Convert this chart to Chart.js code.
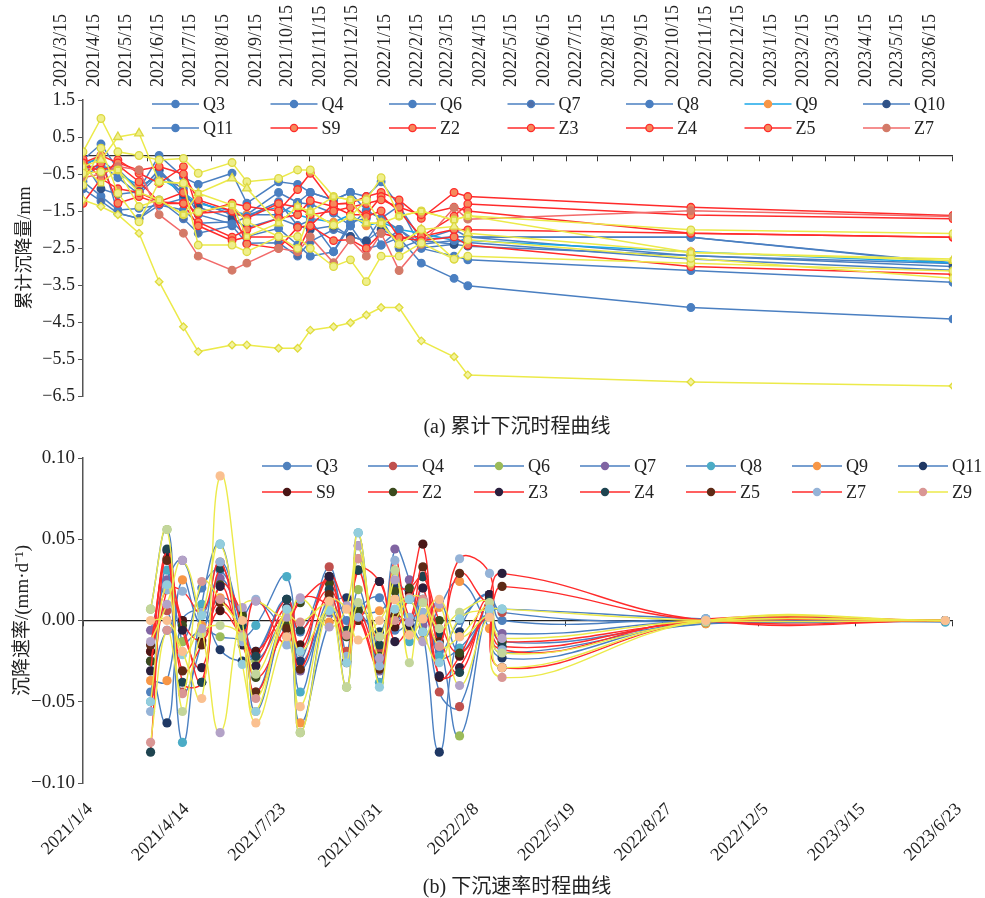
<!DOCTYPE html>
<html>
<head>
<meta charset="utf-8">
<script src="https://cdn.jsdelivr.net/npm/chart.js@4.4.1/dist/chart.umd.min.js"></script>
<style>
  body { margin: 0; background: #fff; width: 985px; height: 898px; position: relative; overflow: hidden; }
  canvas { position: absolute; left: 0; }
  #chartSettle { top: 0; }
  #chartRate { top: 440px; }
  .cap { position: absolute; left: 0; width: 1034px; text-align: center; color: #222;
         font-size: 20px; font-family: 'Liberation Serif', 'Times New Roman', Tinos, serif, 'Noto Sans CJK SC'; }
</style>
</head>
<body>
<canvas id="chartSettle" width="985" height="440"></canvas>
<canvas id="chartRate" width="985" height="458"></canvas>
<div class="cap" style="top:410px">(a) 累计下沉时程曲线</div>
<div class="cap" style="top:870px">(b) 下沉速率时程曲线</div>
<script>
// survey dates (shared by both charts)
const surveyDates = ['2021/3/15', '2021/4/1', '2021/4/17', '2021/5/7', '2021/5/26', '2021/6/18', '2021/7/2',
  '2021/8/3', '2021/8/17', '2021/9/16', '2021/10/4', '2021/10/16', '2021/11/7', '2021/11/23', '2021/12/8',
  '2021/12/22', '2022/1/8', '2022/1/29', '2022/3/1', '2022/3/14', '2022/10/11', '2023/6/16'];

const settleTicks = ['2021/3/15', '2021/4/15', '2021/5/15', '2021/6/15', '2021/7/15', '2021/8/15', '2021/9/15',
  '2021/10/15', '2021/11/15', '2021/12/15', '2022/1/15', '2022/2/15', '2022/3/15', '2022/4/15', '2022/5/15',
  '2022/6/15', '2022/7/15', '2022/8/15', '2022/9/15', '2022/10/15', '2022/11/15', '2022/12/15', '2023/1/15',
  '2023/2/15', '2023/3/15', '2023/4/15', '2023/5/15', '2023/6/15'];
const rateTicks = ['2021/1/4', '2021/4/14', '2021/7/23', '2021/10/31', '2022/2/8', '2022/5/19', '2022/8/27',
  '2022/12/5', '2023/3/15', '2023/6/23'];

// cumulative settlement, mm
const settleQ3  = [-0.12, 0.31, -0.37, -0.93, 0.00, -0.59, -0.78, -0.48, -1.29, -0.71, -0.78, -1.00, -1.20, -1.00, -1.11, -0.71, -1.36, -2.28, -2.00, -2.20, -2.21, -2.92];
const settleQ4  = [-0.30, 0.00, -1.56, -1.70, -1.34, -1.16, -1.25, -1.60, -1.60, -1.00, -1.27, -1.32, -1.56, -1.90, -1.49, -1.70, -2.00, -2.51, -2.72, -2.82, -3.11, -3.43];
const settleQ6  = [-0.70, -1.10, -1.47, -1.43, -1.34, -1.47, -1.83, -1.79, -2.19, -1.97, -2.42, -2.72, -2.60, -1.90, -2.51, -2.42, -2.22, -2.91, -3.32, -3.52, -4.11, -4.42];
const settleQ7  = [-0.90, -1.23, -1.56, -1.70, -1.20, -1.71, -2.10, -1.90, -2.37, -2.36, -2.72, -2.33, -2.00, -2.19, -2.31, -1.70, -2.51, -2.28, -2.19, -2.20, -2.71, -2.92];
const settleQ8  = [-0.30, -0.30, -0.37, -0.98, -0.39, -1.16, -1.25, -1.60, -1.60, -1.60, -1.27, -1.00, -1.20, -1.00, -1.49, -1.70, -1.36, -2.50, -2.40, -2.20, -2.21, -2.90];
const settleQ9  = [-0.20, -0.10, -0.50, -0.80, -0.60, -1.00, -1.30, -1.50, -1.60, -1.40, -1.60, -1.70, -1.80, -1.60, -1.90, -1.80, -2.00, -2.10, -2.30, -2.30, -2.60, -2.90];
const settleQ10 = [-0.15, -0.90, -1.05, -0.98, -0.39, -1.05, -1.40, -1.70, -1.95, -1.70, -1.90, -2.00, -1.90, -2.19, -2.31, -2.00, -2.22, -2.30, -2.40, -2.45, -2.70, -3.00];
const settleQ11 = [-0.60, -0.25, -0.60, -1.05, -0.50, -0.90, -1.60, -1.85, -1.65, -1.25, -1.90, -1.75, -2.60, -1.80, -1.70, -2.42, -2.00, -2.40, -2.30, -2.35, -2.80, -3.10];
const settleS9  = [-0.10, -0.62, -0.12, -0.48, -0.75, -0.30, -1.56, -1.29, -1.38, -1.50, -0.92, -0.48, -1.31, -1.29, -1.11, -1.00, -1.20, -1.70, -1.00, -1.11, -1.40, -1.62];
const settleZ2  = [-0.30, -0.40, -0.26, -0.71, -1.25, -1.00, -1.80, -2.21, -2.00, -1.70, -1.60, -1.22, -1.38, -1.60, -1.60, -1.11, -1.50, -2.19, -1.64, -1.31, -1.61, -1.71];
const settleZ3  = [-0.50, -0.20, -1.29, -1.11, -1.30, -1.29, -1.56, -1.50, -2.39, -2.51, -1.94, -1.90, -1.31, -1.29, -1.65, -1.50, -2.22, -2.19, -2.00, -2.01, -2.10, -2.21];
const settleZ4  = [-1.29, -0.62, -0.90, -1.00, -1.25, -1.30, -1.90, -2.30, -2.20, -2.20, -2.60, -1.90, -2.30, -2.28, -2.51, -2.10, -2.22, -2.30, -2.20, -2.42, -3.00, -3.21];
const settleZ5  = [-0.20, 0.00, -0.20, -0.40, -0.30, -0.50, -1.20, -1.50, -1.70, -1.30, -1.40, -1.60, -1.50, -1.40, -1.30, -1.20, -1.40, -1.60, -1.40, -1.50, -2.10, -2.21];
const settleZ7  = [-0.60, -0.50, -0.30, -0.39, -1.60, -2.10, -2.72, -3.10, -2.91, -2.51, -2.60, -2.20, -2.90, -2.28, -2.72, -2.10, -3.11, -2.40, -1.41, -1.72, -1.49, -1.65];
const settleZ9  = [-1.20, -1.38, -1.60, -2.10, -3.41, -4.63, -5.30, -5.12, -5.12, -5.21, -5.21, -4.72, -4.63, -4.52, -4.31, -4.11, -4.11, -5.01, -5.44, -5.93, -6.12, -6.23];
const settleZ10 = [0.10, 1.00, 0.10, 0.00, -0.12, -0.08, -0.48, -0.19, -0.71, -0.62, -0.39, -0.39, -1.11, -1.20, -1.20, -0.60, -1.64, -1.50, -1.74, -1.63, -2.01, -2.11];
const settleZ11 = [-0.30, -0.12, 0.50, 0.60, -0.71, -0.75, -1.02, -0.62, -0.89, -1.83, -1.38, -1.52, -1.88, -1.65, -1.83, -1.83, -2.40, -2.00, -1.92, -2.10, -2.62, -2.80];
const settleZ12 = [-0.48, -0.44, -0.39, -1.38, -1.20, -1.60, -1.52, -1.34, -1.79, -2.19, -2.19, -2.51, -3.00, -2.82, -3.41, -2.72, -2.72, -2.37, -2.80, -2.72, -2.91, -3.12];
const settleZ13 = [-0.80, 0.20, -1.02, -1.79, -0.71, -0.75, -2.42, -2.42, -2.60, -2.19, -2.51, -1.52, -1.88, -1.65, -1.20, -1.83, -2.40, -2.00, -2.80, -2.28, -2.78, -3.32];
const settleZ14 = [-0.30, -0.75, -0.39, -1.00, -1.20, -1.60, -1.02, -1.34, -2.19, -1.83, -1.38, -1.52, -1.11, -1.20, -1.83, -1.83, -1.64, -1.50, -1.74, -1.63, -2.62, -2.84];

// settlement rate, mm/d
const rateQ3  = [-0.044, -0.006, -0.013, 0.020, 0.031, 0.000, -0.019, 0.013, -0.007, 0.027, 0.000, 0.008, 0.014, -0.006, 0.000, 0.013, -0.019, 0.000, 0.016, 0.000, 0.001, 0.000];
const rateQ4  = [-0.019, 0.006, -0.044, -0.013, 0.036, -0.006, -0.044, 0.003, -0.025, 0.033, -0.019, 0.038, -0.019, 0.003, -0.006, 0.020, -0.044, -0.053, 0.016, 0.005, -0.001, 0.000];
const rateQ6  = [0.007, 0.056, -0.013, -0.006, -0.010, -0.013, -0.025, 0.000, -0.069, 0.010, -0.041, 0.019, -0.025, 0.031, -0.006, 0.004, -0.013, -0.071, 0.010, -0.013, -0.002, 0.000];
const rateQ7  = [-0.006, 0.025, 0.037, 0.005, 0.026, 0.004, 0.012, -0.010, -0.031, 0.005, -0.006, 0.046, -0.031, 0.044, 0.025, -0.003, 0.012, -0.019, 0.005, -0.008, 0.000, 0.000];
const rateQ8  = [-0.050, 0.031, -0.075, 0.010, 0.047, -0.009, -0.003, 0.027, -0.044, 0.014, -0.010, 0.054, -0.038, 0.019, -0.013, 0.013, -0.022, -0.017, 0.005, 0.007, 0.001, -0.001];
const rateQ9  = [-0.037, -0.037, 0.025, -0.003, 0.014, 0.000, -0.056, 0.000, -0.063, -0.001, 0.009, 0.005, 0.006, 0.013, 0.000, -0.012, 0.008, 0.024, -0.005, -0.020, -0.002, 0.000];
const rateQ11 = [-0.025, -0.063, 0.000, 0.005, -0.018, -0.025, -0.021, 0.013, -0.025, 0.008, 0.014, 0.006, -0.007, 0.022, 0.014, -0.007, -0.081, -0.007, 0.016, -0.023, 0.000, 0.000];
const rateS9  = [-0.019, 0.038, 0.000, -0.012, 0.006, -0.010, -0.019, 0.003, -0.015, 0.027, -0.025, 0.031, 0.024, -0.004, 0.017, 0.047, -0.035, -0.022, 0.014, -0.029, 0.000, 0.000];
const rateZ2  = [-0.025, 0.019, -0.003, -0.038, 0.022, 0.003, -0.035, -0.003, 0.011, 0.023, -0.010, 0.006, -0.022, 0.018, 0.020, 0.027, 0.000, -0.020, 0.003, -0.013, -0.001, 0.000];
const rateZ3  = [-0.031, 0.043, -0.006, -0.029, 0.021, -0.015, -0.028, 0.008, -0.019, 0.027, 0.008, 0.000, 0.024, -0.013, -0.003, 0.020, -0.034, -0.029, 0.016, 0.029, 0.000, 0.000];
const rateZ4  = [-0.081, 0.044, -0.038, -0.038, 0.032, -0.003, -0.022, 0.013, -0.006, 0.019, -0.006, 0.031, -0.015, 0.003, 0.013, 0.027, -0.009, -0.032, 0.012, -0.016, 0.000, 0.000];
const rateZ5  = [-0.015, 0.037, -0.031, -0.015, 0.011, -0.010, -0.044, -0.005, -0.030, 0.016, -0.026, 0.000, -0.030, 0.003, 0.000, 0.033, -0.013, 0.029, 0.010, 0.021, 0.000, 0.000];
const rateZ7  = [-0.056, 0.019, 0.018, 0.005, 0.036, -0.013, 0.013, -0.015, 0.013, 0.008, -0.022, 0.002, -0.028, 0.037, 0.002, 0.005, -0.015, 0.038, 0.029, -0.018, 0.001, 0.000];
const rateZ9  = [-0.075, -0.006, -0.045, 0.024, 0.013, -0.009, -0.048, 0.003, -0.001, 0.010, -0.009, 0.038, -0.010, 0.000, 0.014, 0.013, -0.016, -0.010, 0.008, -0.035, 0.000, 0.000];
const rateZ10 = [0.007, 0.056, -0.056, -0.008, -0.003, -0.010, -0.033, 0.003, -0.069, 0.007, -0.041, 0.011, -0.010, 0.031, -0.026, 0.011, -0.005, 0.005, 0.011, -0.020, -0.001, 0.000];
const rateZ11 = [-0.013, 0.010, 0.037, -0.005, -0.069, 0.008, 0.012, 0.002, 0.014, -0.004, 0.009, 0.046, -0.023, 0.025, -0.001, -0.013, 0.010, -0.040, 0.003, -0.011, 0.000, 0.000];
const rateZ12 = [-0.050, 0.022, -0.021, 0.003, 0.047, -0.027, -0.056, 0.007, -0.019, 0.006, -0.026, 0.054, -0.041, 0.007, 0.013, -0.007, -0.026, 0.001, 0.007, 0.007, 0.000, 0.000];
const rateZ13 = [0.000, 0.000, -0.019, -0.048, 0.089, 0.000, -0.063, -0.010, -0.053, 0.012, 0.007, -0.012, 0.000, 0.013, -0.009, 0.001, 0.013, -0.010, 0.002, -0.029, 0.000, 0.000];

const LATIN = "'Liberation Serif', 'Times New Roman', Tinos, serif";
const MIXED = LATIN + ", 'Noto Sans CJK SC'";
const BLUE = '#4a7fc1', RED = '#ff2b2b', YEL = '#ecea4a';

function toDay(s) {
  const p = s.split('/').map(Number);
  return Date.UTC(p[0], p[1] - 1, p[2]) / 86400000;
}
const dayX = surveyDates.map(toDay);
const fmtMinus = (v, d) => (v < -1e-9 ? '\u2212' : '') + Math.abs(v).toFixed(d);

// styles for the top chart
const settleSeries = [
  ['Q3', settleQ3, BLUE, BLUE, BLUE, 'circle'],
  ['Q4', settleQ4, BLUE, BLUE, BLUE, 'circle'],
  ['Q6', settleQ6, BLUE, BLUE, BLUE, 'circle'],
  ['Q7', settleQ7, BLUE, '#4f6fa8', BLUE, 'circle'],
  ['Q8', settleQ8, BLUE, BLUE, BLUE, 'circle'],
  ['Q9', settleQ9, '#1aa7e8', '#f79646', '#f79646', 'circle'],
  ['Q10', settleQ10, BLUE, '#2f5288', '#2f5288', 'circle'],
  ['Q11', settleQ11, BLUE, BLUE, BLUE, 'circle'],
  ['S9', settleS9, RED, '#f58a5c', RED, 'circle'],
  ['Z2', settleZ2, RED, '#f58a5c', RED, 'circle'],
  ['Z3', settleZ3, RED, '#f58a5c', RED, 'circle'],
  ['Z4', settleZ4, RED, '#f58a5c', RED, 'circle'],
  ['Z5', settleZ5, RED, '#f58a5c', RED, 'circle'],
  ['Z7', settleZ7, '#f26a6a', '#d47a68', '#d47a68', 'circle'],
  ['Z9', settleZ9, YEL, '#f3f3a0', '#e0dc3c', 'rectRot'],
  ['Z10', settleZ10, YEL, '#efef8a', '#dcd840', 'circle'],
  ['Z11', settleZ11, YEL, '#efef8a', '#dcd840', 'triangle'],
  ['Z12', settleZ12, YEL, '#efef8a', '#dcd840', 'circle'],
  ['Z13', settleZ13, YEL, '#efef8a', '#dcd840', 'circle'],
  ['Z14', settleZ14, YEL, '#efef8a', '#dcd840', 'rect']
];
const settleLegend = ['Q3', 'Q4', 'Q6', 'Q7', 'Q8', 'Q9', 'Q10', 'Q11', 'S9', 'Z2', 'Z3', 'Z4', 'Z5', 'Z7'];

// styles for the bottom chart
const rateSeries = [
  ['Q3', rateQ3, BLUE, '#4f81bd'],
  ['Q4', rateQ4, BLUE, '#c0504d'],
  ['Q6', rateQ6, BLUE, '#9bbb59'],
  ['Q7', rateQ7, BLUE, '#8064a2'],
  ['Q8', rateQ8, BLUE, '#4bacc6'],
  ['Q9', rateQ9, BLUE, '#f79646'],
  ['Q11', rateQ11, BLUE, '#1f3864'],
  ['S9', rateS9, RED, '#4a1616'],
  ['Z2', rateZ2, RED, '#3b4a1e'],
  ['Z3', rateZ3, RED, '#2a1f3d'],
  ['Z4', rateZ4, RED, '#1e4450'],
  ['Z5', rateZ5, RED, '#5e2a16'],
  ['Z7', rateZ7, RED, '#95b3d7'],
  ['Z9', rateZ9, YEL, '#d99694'],
  ['Z10', rateZ10, YEL, '#c3d69b'],
  ['Z11', rateZ11, YEL, '#b3a2c7'],
  ['Z12', rateZ12, YEL, '#93cddd'],
  ['Z13', rateZ13, YEL, '#fac090']
];
const rateLegend = ['Q3', 'Q4', 'Q6', 'Q7', 'Q8', 'Q9', 'Q11', 'S9', 'Z2', 'Z3', 'Z4', 'Z5', 'Z7', 'Z9'];

// legend laid out on a fixed grid inside the plot, like the original
function gridLegend(names, opt) {
  return {
    id: 'gridLegend',
    afterDatasetsDraw(chart) {
      const ctx = chart.ctx;
      ctx.save();
      names.forEach((name, i) => {
        const ds = chart.data.datasets.find(d => d.label === name);
        const x = opt.x + (i % opt.cols) * opt.dx;
        const y = opt.y + Math.floor(i / opt.cols) * opt.dy;
        ctx.strokeStyle = ds.borderColor;
        ctx.lineWidth = ds.borderWidth;
        ctx.beginPath();
        ctx.moveTo(x, y);
        ctx.lineTo(x + opt.len, y);
        ctx.stroke();
        ctx.beginPath();
        ctx.arc(x + opt.len / 2, y, opt.r, 0, Math.PI * 2);
        ctx.fillStyle = ds.pointBackgroundColor;
        ctx.fill();
        if (ds.pointBorderWidth) {
          ctx.lineWidth = ds.pointBorderWidth;
          ctx.strokeStyle = ds.pointBorderColor;
          ctx.stroke();
        }
        ctx.fillStyle = '#222';
        ctx.font = opt.font;
        ctx.textBaseline = 'middle';
        ctx.textAlign = 'left';
        ctx.fillText(name, x + opt.len + opt.gap, y + 1);
      });
      ctx.restore();
    }
  };
}

function fixedTicks(list) {
  const vals = list.map(toDay);
  return {
    build: scale => { scale.ticks = vals.map(v => ({ value: v })); },
    label: v => { const k = vals.indexOf(v); return k < 0 ? '' : list[k]; }
  };
}

// ---------- (a) cumulative settlement ----------
const topT = fixedTicks(settleTicks);
const topMin = toDay(settleTicks[0]), topMax = toDay(settleTicks[settleTicks.length - 1]);

new Chart(document.getElementById('chartSettle'), {
  type: 'line',
  data: {
    datasets: settleSeries.map((s, i) => ({
      label: s[0],
      data: s[1].map((v, k) => ({ x: dayX[k], y: v })),
      borderColor: s[2],
      borderWidth: 1.5,
      pointBackgroundColor: s[3],
      pointBorderColor: s[4],
      pointBorderWidth: 1.3,
      pointStyle: s[5],
      pointRadius: s[5] === 'triangle' ? 5 : 3.8,
      tension: 0,
      order: settleSeries.length - i
    }))
  },
  options: {
    responsive: false,
    animation: false,
    layout: { padding: { left: 0, right: 33, top: 0, bottom: 44 } },
    plugins: { legend: { display: false }, tooltip: { enabled: false } },
    scales: {
      x: {
        type: 'linear', position: 'top', min: topMin, max: topMax,
        afterBuildTicks: topT.build,
        afterFit: s => { s.height = 100; },
        grid: { display: false }, border: { display: false },
        ticks: { autoSkip: false, minRotation: 90, maxRotation: 90, padding: 5,
                 color: '#222', font: { family: LATIN, size: 18 }, callback: topT.label }
      },
      xZero: {
        type: 'linear', position: { y: 0 }, min: topMin, max: topMax,
        afterBuildTicks: topT.build,
        grid: { drawOnChartArea: false, drawTicks: true, tickLength: 5, color: '#333', lineWidth: 1 },
        border: { color: '#333', width: 1.3 },
        ticks: { display: false }
      },
      y: {
        min: -6.5, max: 1.5,
        afterFit: s => { s.width = 83; },
        grid: { drawOnChartArea: false, tickLength: 5, color: '#555' },
        border: { color: '#555', width: 1.5 },
        ticks: { stepSize: 1, padding: 3, color: '#222', font: { family: LATIN, size: 18 },
                 callback: v => fmtMinus(v, 1) },
        title: { display: true, text: '累计沉降量/mm', color: '#222', padding: { top: 14, bottom: 0 },
                 font: { family: MIXED, size: 18 } }
      }
    }
  },
  plugins: [gridLegend(settleLegend, { x: 152, y: 104, cols: 7, dx: 118.5, dy: 24, len: 47, gap: 4, r: 3.6,
                                        font: '18px ' + LATIN })]
});

// ---------- (b) settlement rate ----------
const botT = fixedTicks(rateTicks);
const botMin = toDay(rateTicks[0]), botMax = toDay(rateTicks[rateTicks.length - 1]);

new Chart(document.getElementById('chartRate'), {
  type: 'line',
  data: {
    datasets: rateSeries.map((s, i) => ({
      label: s[0],
      data: s[1].map((v, k) => ({ x: dayX[k], y: v })),
      borderColor: s[2],
      borderWidth: 1.4,
      pointBackgroundColor: s[3],
      pointBorderColor: s[3],
      pointBorderWidth: 0,
      pointRadius: 4.6,
      tension: 0.45,
      order: rateSeries.length - i
    }))
  },
  options: {
    responsive: false,
    animation: false,
    layout: { padding: { left: 0, right: 33, top: 18, bottom: 0 } },
    plugins: { legend: { display: false }, tooltip: { enabled: false } },
    scales: {
      x: {
        type: 'linear', position: 'bottom', min: botMin, max: botMax,
        afterBuildTicks: botT.build,
        afterFit: s => { s.height = 115; },
        grid: { display: false }, border: { display: false },
        ticks: { autoSkip: false, minRotation: 45, maxRotation: 45, padding: 8, labelOffset: 7,
                 color: '#222', font: { family: LATIN, size: 18 }, callback: botT.label }
      },
      xZero: {
        type: 'linear', position: { y: 0 }, min: botMin, max: botMax,
        afterBuildTicks: botT.build,
        grid: { drawOnChartArea: false, drawTicks: true, tickLength: 5, color: '#333', lineWidth: 1 },
        border: { color: '#222', width: 1.3 },
        ticks: { display: false }
      },
      y: {
        min: -0.1, max: 0.1,
        afterFit: s => { s.width = 83; },
        grid: { drawOnChartArea: false, tickLength: 5, color: '#555' },
        border: { color: '#555', width: 1.5 },
        ticks: { stepSize: 0.05, padding: 3, color: '#222', font: { family: LATIN, size: 19 },
                 callback: v => fmtMinus(v, 2) },
        title: { display: true, text: '沉降速率/(mm·d⁻¹)', color: '#222', padding: { top: 12, bottom: 0 },
                 font: { family: MIXED, size: 19 } }
      }
    }
  },
  plugins: [gridLegend(rateLegend, { x: 262, y: 26, cols: 7, dx: 106, dy: 26, len: 50, gap: 4, r: 4.2,
                                      font: '18px ' + LATIN })]
});
</script>
</body>
</html>
